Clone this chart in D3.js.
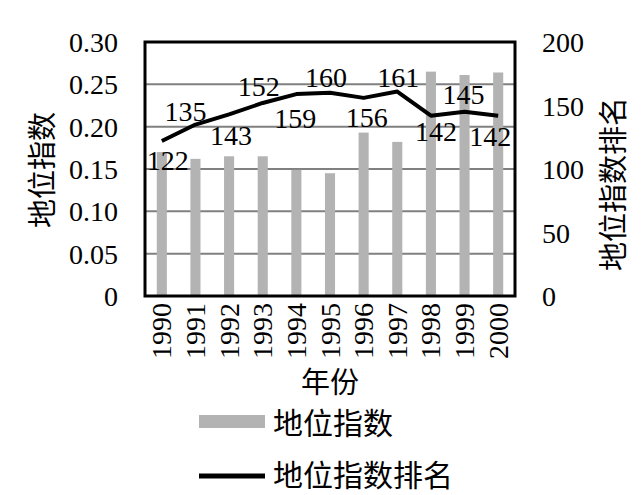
<!DOCTYPE html>
<html>
<head>
<meta charset="utf-8">
<script src="https://cdn.jsdelivr.net/npm/d3@7"></script>
<style>
  html, body { margin: 0; padding: 0; background: #fff; }
  svg { display: block; }
  .serif { font-family: "Liberation Serif", "Tinos", "Times New Roman", "DejaVu Serif", "Noto Serif", serif; }
  .cjk { font-family: "Noto Sans CJK SC", "Noto Sans CJK JP", sans-serif; }
</style>
</head>
<body>
<script>
// ---- data ----
const years = ["1990","1991","1992","1993","1994","1995","1996","1997","1998","1999","2000"];
const indexValues = [0.170, 0.162, 0.165, 0.165, 0.149, 0.145, 0.193, 0.182, 0.265, 0.261, 0.264];
const rankValues = [122, 135, 143, 152, 159, 160, 156, 161, 142, 145, 142];
const leftTicks = [0, 0.05, 0.10, 0.15, 0.20, 0.25, 0.30];
const rightTicks = [0, 50, 100, 150, 200];
const leftTitle = "地位指数";
const rightTitle = "地位指数排名";
const xTitle = "年份";
const legendLabels = ["地位指数", "地位指数排名"];
// label placement relative to each line point [dx, dy]
const labelOffsets = [[6,19],[-10,-13],[2,21],[-4,-16],[-1,24],[-4,-15],[3,20],[1,-14],[5,16],[-1,-17],[-8,21]];

const W = 644, H = 495;
const plot = {left: 145, right: 515, top: 42, bottom: 296};
const barColor = "#b3b3b3";
const gridColor = "#808080";

const svg = d3.select("body").append("svg").attr("width", W).attr("height", H);

const x = d3.scaleBand().domain(years).range([plot.left, plot.right])
  .paddingInner(0.7).paddingOuter(0.35);
const yL = d3.scaleLinear().domain([0, 0.3]).range([plot.bottom, plot.top]);
const yR = d3.scaleLinear().domain([0, 200]).range([plot.bottom, plot.top]);

// gridlines
svg.append("g").selectAll("line").data(leftTicks.filter(t => t > 0 && t < 0.3))
  .join("line")
  .attr("x1", plot.left).attr("x2", plot.right)
  .attr("y1", d => yL(d)).attr("y2", d => yL(d))
  .attr("stroke", gridColor).attr("stroke-width", 2);

// bars
svg.append("g").selectAll("rect").data(years)
  .join("rect")
  .attr("x", d => x(d))
  .attr("width", x.bandwidth())
  .attr("y", (d, i) => yL(indexValues[i]))
  .attr("height", (d, i) => plot.bottom - yL(indexValues[i]))
  .attr("fill", barColor);

// rank line
const cx = d => x(d) + x.bandwidth() / 2;
const line = d3.line().x((d, i) => cx(years[i])).y(d => yR(d));
svg.append("path").datum(rankValues)
  .attr("d", line)
  .attr("fill", "none").attr("stroke", "#000").attr("stroke-width", 4)
  .attr("stroke-linejoin", "round");

// data labels
svg.append("g").selectAll("text").data(rankValues)
  .join("text")
  .attr("class", "serif")
  .attr("x", (d, i) => cx(years[i]) + labelOffsets[i][0])
  .attr("y", (d, i) => yR(d) + labelOffsets[i][1])
  .attr("text-anchor", "middle").attr("dominant-baseline", "central")
  .style("font-size", "28px").attr("fill", "#000")
  .text(d => d);

// plot border
svg.append("rect")
  .attr("x", plot.left).attr("y", plot.top)
  .attr("width", plot.right - plot.left).attr("height", plot.bottom - plot.top)
  .attr("fill", "none").attr("stroke", "#000").attr("stroke-width", 3);

function styleAxisText(sel) {
  sel.attr("font-family", null).attr("font-size", null)
    .attr("class", "serif").style("font-size", "28px").attr("fill", "#000")
    .attr("dy", null).attr("dominant-baseline", "central");
}

// left axis
const leftAxis = d3.axisLeft(yL).tickValues(leftTicks).tickSize(0).tickPadding(0)
  .tickFormat(d => d === 0 ? "0" : d.toFixed(2));
const gL = svg.append("g").attr("transform", `translate(118,0)`).call(leftAxis);
gL.attr("font-family", null).attr("font-size", null);
gL.select(".domain").remove();
styleAxisText(gL.selectAll("text"));

// right axis
const rightAxis = d3.axisRight(yR).tickValues(rightTicks).tickSize(0).tickPadding(0)
  .tickFormat(d3.format("d"));
const gR = svg.append("g").attr("transform", `translate(542,0)`).call(rightAxis);
gR.attr("font-family", null).attr("font-size", null);
gR.select(".domain").remove();
styleAxisText(gR.selectAll("text"));

// x axis labels (rotated)
const xAxis = d3.axisBottom(x).tickSize(0).tickPadding(0);
const gX = svg.append("g").attr("transform", `translate(0,${plot.bottom + 7})`).call(xAxis);
gX.attr("font-family", null).attr("font-size", null);
gX.select(".domain").remove();
styleAxisText(gX.selectAll("text"));
gX.selectAll("text")
  .attr("y", 0).attr("x", 0)
  .attr("transform", "rotate(-90)")
  .attr("text-anchor", "end");

// axis titles
svg.append("text").attr("class", "cjk")
  .attr("transform", "translate(40,170) rotate(-90)")
  .attr("text-anchor", "middle").attr("dominant-baseline", "central")
  .style("font-size", "29px").attr("fill", "#000")
  .text(leftTitle);
svg.append("text").attr("class", "cjk")
  .attr("transform", "translate(611,184) rotate(-90)")
  .attr("text-anchor", "middle").attr("dominant-baseline", "central")
  .style("font-size", "29px").attr("fill", "#000")
  .text(rightTitle);
svg.append("text").attr("class", "cjk")
  .attr("x", 330).attr("y", 380)
  .attr("text-anchor", "middle").attr("dominant-baseline", "central")
  .style("font-size", "29px").attr("fill", "#000")
  .text(xTitle);

// legend
const lg = svg.append("g");
lg.append("rect").attr("x", 199).attr("y", 415).attr("width", 66).attr("height", 13).attr("fill", barColor);
lg.append("text").attr("class", "cjk").attr("x", 273).attr("y", 421)
  .attr("dominant-baseline", "central")
  .style("font-size", "30px").attr("fill", "#000")
  .text(legendLabels[0]);
lg.append("line").attr("x1", 199).attr("x2", 265).attr("y1", 476).attr("y2", 476)
  .attr("stroke", "#000").attr("stroke-width", 5);
lg.append("text").attr("class", "cjk").attr("x", 273).attr("y", 473)
  .attr("dominant-baseline", "central")
  .style("font-size", "30px").attr("fill", "#000")
  .text(legendLabels[1]);
</script>
</body>
</html>
